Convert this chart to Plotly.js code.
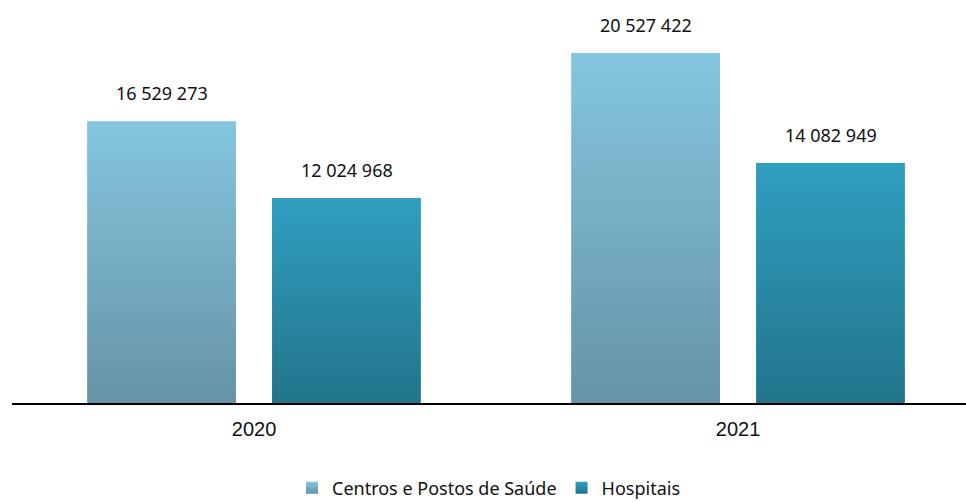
<!DOCTYPE html>
<html>
<head>
<meta charset="utf-8">
<script src="https://cdn.plot.ly/plotly-3.0.1.min.js"></script>
<style>html,body{margin:0;padding:0;background:#fff;}#chart{width:966px;height:502px;}</style>
</head>
<body>
<div id="chart"></div>
<script>
const years = ["2020", "2021"];
const seriesNames = ["Centros e Postos de Saúde", "Hospitais"];
const centros = [16529273, 20527422];
const hospitais = [12024968, 14082949];

const gradients = [
  {id: "gCentros", top: "#84C6DF", bottom: "#6693A6"},
  {id: "gHosp", top: "#2F9FC0", bottom: "#22748B"}
];
const solid = ["#78B3C9", "#2A8CA8"];

function fmt(v) {
  return String(v).replace(/\B(?=(\d{3})+(?!\d))/g, " ");
}

const traces = [
  {type: "bar", name: seriesNames[0], x: years, y: centros, marker: {color: solid[0]}, hoverinfo: "none"},
  {type: "bar", name: seriesNames[1], x: years, y: hospitais, marker: {color: solid[1]}, hoverinfo: "none"}
];

const annotations = [];
[centros, hospitais].forEach(function (vals, si) {
  vals.forEach(function (v, i) {
    annotations.push({
      x: i, y: v, xref: "x", yref: "y",
      text: fmt(v), showarrow: false,
      xshift: si === 0 ? -92.5 : 92.5, yanchor: "bottom", yshift: 14,
      font: {family: "Noto Sans, Liberation Sans, sans-serif", size: 18, color: "#111"}
    });
  });
});

const layout = {
  width: 966, height: 502,
  margin: {l: 12, r: 0, t: 0, b: 99, autoexpand: false},
  paper_bgcolor: "#fff", plot_bgcolor: "#fff",
  barmode: "group", bargap: 0.236, bargroupgap: 0.195,
  showlegend: true,
  legend: {orientation: "h", x: 0.5, xanchor: "center", yref: "container", y: 0.028, yanchor: "middle",
    font: {family: "Noto Sans, Liberation Sans, sans-serif", size: 18, color: "#111"},
    itemwidth: 30, tracegroupgap: 0, itemclick: false},
  xaxis: {type: "category", range: [-0.5, 1.471], showline: true, linecolor: "#000", linewidth: 2,
    ticks: "outside", ticklen: 7, tickcolor: "rgba(0,0,0,0)",
    tickfont: {family: "Liberation Sans, Arial, sans-serif", size: 20, color: "#111"},
    showgrid: false, zeroline: false, fixedrange: true, automargin: false},
  yaxis: {range: [0, 23636000], showticklabels: false, showline: false, ticks: "", showgrid: false, zeroline: false, fixedrange: true},
  annotations: annotations
};

Plotly.newPlot("chart", traces, layout, {displayModeBar: false, staticPlot: true}).then(function (gd) {
  const svg = gd.querySelector("svg.main-svg");
  const ns = "http://www.w3.org/2000/svg";
  let defs = svg.querySelector("defs");
  if (!defs) { defs = document.createElementNS(ns, "defs"); svg.insertBefore(defs, svg.firstChild); }
  gradients.forEach(function (g) {
    const lg = document.createElementNS(ns, "linearGradient");
    lg.setAttribute("id", g.id);
    lg.setAttribute("x1", "0"); lg.setAttribute("y1", "0");
    lg.setAttribute("x2", "0"); lg.setAttribute("y2", "1");
    const s1 = document.createElementNS(ns, "stop");
    s1.setAttribute("offset", "0"); s1.setAttribute("stop-color", g.top);
    const s2 = document.createElementNS(ns, "stop");
    s2.setAttribute("offset", "1"); s2.setAttribute("stop-color", g.bottom);
    lg.appendChild(s1); lg.appendChild(s2); defs.appendChild(lg);
  });
  gd.querySelectorAll(".barlayer .trace").forEach(function (tg, ti) {
    tg.querySelectorAll("path").forEach(function (p) {
      p.style.fill = "url(#" + gradients[ti].id + ")";
    });
  });
  gd.querySelectorAll(".legend .traces").forEach(function (li, ti) {
    li.querySelectorAll(".legendpoints path").forEach(function (p) {
      p.style.fill = "url(#" + gradients[ti].id + ")";
    });
  });
});
</script>
</body>
</html>
